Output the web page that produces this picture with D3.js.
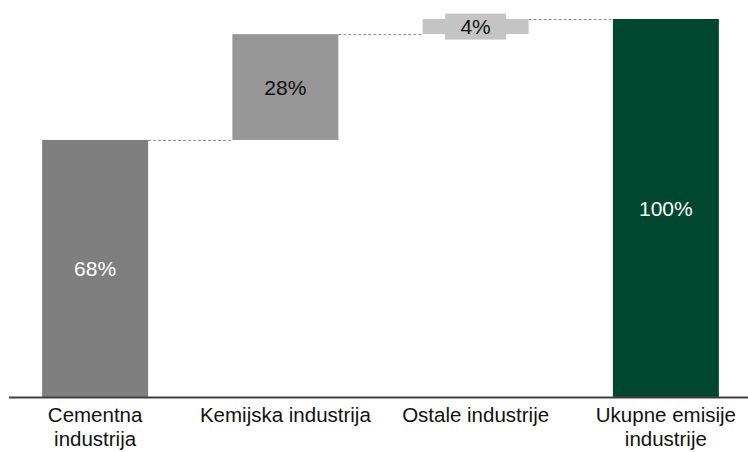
<!DOCTYPE html>
<html><head><meta charset="utf-8">
<script src="https://cdn.jsdelivr.net/npm/d3@7"></script>
<style>body{margin:0;background:#fff}svg{display:block}text{font-family:"Liberation Sans",Arial,sans-serif}</style>
</head><body>
<svg id="c" width="748" height="452"></svg>
<script>
const categories = ["Cementna industrija", "Kemijska industrija", "Ostale industrije", "Ukupne emisije industrije"];
const labelLines = [["Cementna","industrija"],["Kemijska industrija"],["Ostale industrije"],["Ukupne emisije","industrije"]];
const values = [68, 28, 4, 100];
const isTotal = [false, false, false, true];
const colors = ["#7f7f7f", "#969696", "#c4c4c4", "#00472f"];
const labelColors = ["#ffffff", "#111111", "#111111", "#ffffff"];

const svg = d3.select("#c");
const x = d3.scaleBand().domain(categories).range([0, 761]).paddingInner(0.443).paddingOuter(0.2215);
const y = d3.scaleLinear().domain([0, 100]).range([397, 19]);

let cum = 0;
const bars = categories.map((c, i) => {
  let lo, hi;
  if (isTotal[i]) { lo = 0; hi = values[i]; }
  else { lo = cum; hi = cum + values[i]; cum = hi; }
  return {c, i, lo, hi, v: values[i]};
});

// connectors
for (let i = 0; i < bars.length - 1; i++) {
  const b = bars[i], n = bars[i+1];
  svg.append("line")
    .attr("x1", x(b.c) + x.bandwidth()).attr("x2", x(n.c))
    .attr("y1", y(b.hi) + 0.5).attr("y2", y(b.hi) + 0.5)
    .attr("stroke", "#8c8c8c").attr("stroke-width", 1).attr("stroke-dasharray", "3,2");
}

svg.selectAll("rect.bar").data(bars).enter().append("rect")
  .attr("class", "bar")
  .attr("x", d => x(d.c)).attr("width", x.bandwidth())
  .attr("y", d => y(d.hi)).attr("height", d => y(d.lo) - y(d.hi))
  .attr("fill", d => colors[d.i]);

// label backgrounds for thin bars
bars.forEach(d => {
  const h = y(d.lo) - y(d.hi);
  const cx = x(d.c) + x.bandwidth() / 2, cy = (y(d.lo) + y(d.hi)) / 2;
  if (h < 26) {
    svg.append("rect").attr("x", cx - 30.5).attr("y", cy - 13).attr("width", 61).attr("height", 26)
      .attr("fill", colors[d.i]);
  }
  svg.append("text").attr("x", cx).attr("y", cy).attr("dy", "0.36em")
    .attr("text-anchor", "middle").attr("font-size", 21)
    .attr("fill", labelColors[d.i]).text(d.v + "%");
});

// axis
const axis = svg.append("g").attr("transform", "translate(0,397)")
  .call(d3.axisBottom(x).tickSize(0).tickFormat(""));
axis.select(".domain").remove();
svg.append("line").attr("x1", 9).attr("x2", 748).attr("y1", 397.5).attr("y2", 397.5)
  .attr("stroke", "#404040").attr("stroke-width", 2);

categories.forEach((c, i) => {
  labelLines[i].forEach((l, k) => svg.append("text")
    .attr("x", x(c) + x.bandwidth() / 2).attr("y", 422 + k * 24)
    .attr("text-anchor", "middle").attr("font-size", 20.5).attr("fill", "#111").text(l));
});
</script>
</body></html>
